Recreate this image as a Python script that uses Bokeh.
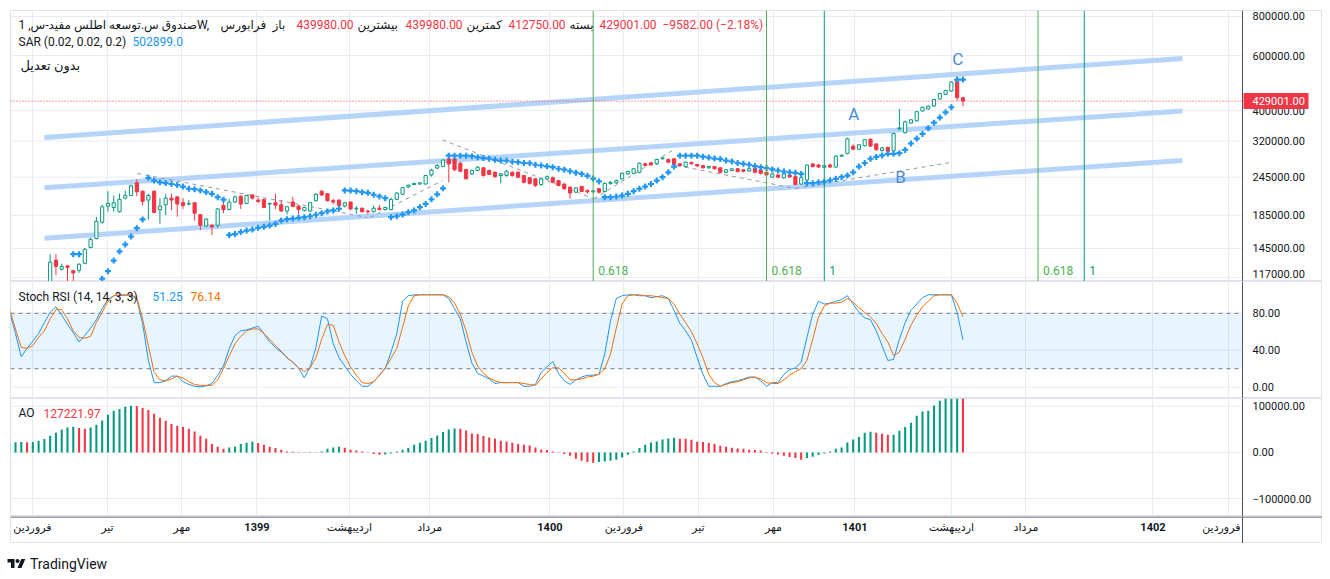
from bokeh.plotting import figure
from bokeh.models import (Range1d, FixedTicker, Span, BoxAnnotation, Label,
                          ColumnDataSource, Grid, Div)
from bokeh.layouts import column
from bokeh.embed import file_html
from bokeh.resources import INLINE
from bokeh.core.properties import value

# ---------------- data (weekly bars, prices in thousands) ----------------
weeks = list(range(-1, 165))

open_k = [97, 99, 102, 101, 104, 103, 106, 108, 133, 124.5,
          127.5, 123, 123.5, 130, 146, 156, 176, 198, 196, 190,
          210, 214, 235, 221, 207, 221, 193, 200, 210, 212,
          203, 201, 203, 186, 171, 172, 172, 199, 193, 204,
          213, 202, 215, 207, 208, 201, 203, 200, 191, 204,
          198, 192, 191, 206, 221, 217, 206, 207, 198, 204,
          194, 195, 191, 190, 195, 193, 193, 208, 216, 228,
          232, 233, 233, 249, 262, 265, 280, 280, 271.7, 259.5,
          251, 257.4, 262.5, 257.4, 254, 248, 248, 254, 254, 248,
          244, 242, 232, 242, 244, 239, 233, 227.6, 219.4, 228.7,
          222, 220, 225, 220.5, 234, 235, 242, 251, 252, 254,
          270.4, 272.4, 270.4, 280.6, 279, 280.6, 270.4, 265, 273, 269,
          267, 262.5, 265, 262.5, 254, 257.4, 260.7, 258.7, 256.5, 262,
          258.7, 254, 245, 249, 244, 249, 246, 233, 240, 270,
          268, 263, 268, 264, 286, 292, 308, 301, 309, 324,
          313, 298, 305, 298, 350, 340, 365, 371, 399, 405,
          414, 436, 451, 462, 497, 439.98]
high_k = [100, 103, 104, 105, 106, 107, 110, 139, 139, 129.5,
          128.5, 124, 130, 145.5, 157, 183, 200, 221, 214, 217,
          222, 232, 241, 222, 217, 222, 210, 217, 217, 213,
          210, 207, 204, 187, 181.5, 173, 195, 206, 209, 214,
          214, 215, 216, 211, 209, 203, 217, 207, 198, 212,
          200, 197, 204, 218, 223, 218, 209, 208, 204, 205,
          198, 196, 193, 199, 200, 197, 211, 220, 228, 232,
          235, 236, 249, 261, 270, 279, 281, 284, 274, 260,
          259, 266, 264, 259, 256, 253, 258, 256, 256, 249,
          245, 243, 244, 248, 246, 240, 234, 229, 228, 230,
          224, 223, 226, 236, 238, 241, 254, 257, 262, 273,
          272, 274, 281, 284, 281, 282, 271, 275, 275, 270,
          268, 266, 266, 263, 260, 262, 262, 260, 262, 263,
          260, 255, 252, 250, 253, 251, 247, 245, 269, 272,
          270, 269, 271, 288, 290, 328, 312, 313, 324, 326,
          315, 306, 307, 340, 405, 372, 376, 398, 412, 416,
          436, 456, 466, 497, 510, 439.98]
low_k = [95, 98, 100, 99, 102, 101, 104, 104, 119, 123,
         114, 114, 121, 129, 145, 155, 174, 190, 190, 189,
         208, 213, 213, 199, 179, 188, 174, 185, 192, 183,
         194, 199, 178, 166, 170, 160, 169, 188, 192, 203,
         194, 202, 208, 202, 195, 178, 194, 190, 186, 197,
         186, 190, 190, 205, 213, 205, 201, 198, 196, 192,
         187, 189, 186, 189, 192, 192, 192, 207, 215, 226,
         231, 232, 232, 246, 260, 264, 236, 256, 254, 241,
         249, 256, 246, 249, 244, 234, 246, 246, 243, 234,
         232, 228, 230, 240, 234, 229, 223, 209, 218, 219,
         217, 218, 217, 219, 232, 233, 240, 249, 251, 252,
         265, 266, 268, 279, 272, 266, 265, 263, 269, 264,
         261, 261, 259, 252, 252, 256, 254, 254, 255, 252,
         250, 247, 244, 243, 242, 244, 231, 232, 238, 263,
         262, 261, 262, 262, 284, 290, 299, 299, 307, 306,
         298, 296, 294, 296, 346, 338, 363, 369, 397, 403,
         412, 434, 449, 460, 430, 412.75]
close_k = [99, 102, 101, 104, 103, 106, 108, 131, 127, 127,
           126, 121, 129, 144, 155, 177, 197, 202, 203, 208,
           214, 230, 220, 205, 214, 189, 198, 210, 207, 201,
           199, 202, 188, 172, 180, 170, 194, 193, 204, 212,
           201, 214, 210, 205, 196, 202, 199.5, 191, 197, 197.5,
           193, 196, 203, 216, 215, 206, 204, 199, 203, 194,
           195, 190, 190, 195, 193, 196, 208, 218, 227, 231,
           234, 235, 248, 258, 267, 278, 270, 259, 256, 242,
           257.4, 263.7, 248, 250, 246, 251, 256, 248, 245, 236,
           234, 230.5, 242, 246, 236, 230.5, 225, 218, 226.5, 220.5,
           220, 221.5, 219.4, 234, 236, 239, 252, 255.5, 260.7, 271.6,
           267, 268.5, 279, 282.5, 273.6, 268.5, 267, 273.6, 270.4, 266.3,
           262.5, 265, 260.7, 254, 258.7, 260.7, 255.4, 256, 260.7, 254,
           252, 249, 251, 245, 252, 245.5, 232, 244, 268, 265,
           264, 267, 264, 286, 288, 325, 301, 311, 323, 308,
           300, 304, 296, 338, 352, 368, 374, 397, 410, 413,
           434, 454, 464, 494, 440, 429.001]
sar_k = [90, 91, 92, 93, 94, 95, 97, 99, 101, 103,
         105, 139, 139, 104, 106, 109, 116, 122.6, 132.6, 141.8,
         149.3, 158.3, 168.3, 179.5, 243.9, 239, 236, 234.7, 233, 231.3,
         228.6, 225, 224.3, 222.3, 219.6, 216.8, 211.5, 207.6, 160.2, 161.2,
         163.5, 165.4, 166.6, 168.7, 170, 171.6, 173.7, 178, 179.8, 180.7,
         181.6, 182.5, 183.8, 185.8, 188, 190.4, 191.8, 194.2, 222.3, 222,
         221, 219.4, 218.4, 215.3, 212.6, 210, 182.5, 183.8, 186, 189.3,
         191.8, 196.4, 201.2, 208.3, 216, 225.7, 287, 287, 287, 287,
         286, 284, 282, 280.6, 278.5, 277, 277, 274.5, 273.6, 272,
         271.5, 268.5, 267, 265.5, 263.7, 260.7, 259, 256, 253.3, 251,
         247.5, 242.5, 237.5, 211.5, 211.5, 212.5, 214, 216.8, 221, 225,
         228.7, 233, 239, 245, 254, 265, 287, 287, 287, 287,
         285, 283, 281, 280, 277, 275, 272, 270.4, 268.5, 266,
         263.7, 262, 259.5, 257.4, 255.5, 254, 253, 251, 234.4, 234.4,
         236, 237, 239.5, 242, 245, 248, 254, 265, 272, 280.6,
         284.5, 287.7, 291, 291, 292.3, 299.5, 314, 325.6, 337, 351.6,
         366, 380, 395, 410, 502.9, 502.899]
stoch_k = [81, 58, 33, 42, 50, 58, 70, 81, 87, 78,
           68, 59, 49, 56, 64, 73, 85, 95, 99, 99.5,
           99.5, 99.5, 95, 69, 29, 5, 5, 7, 12, 12,
           6, 3, 1, 0.5, 1.5, 4, 13, 23, 42, 56,
           61, 62, 64, 66, 58, 49, 43, 38, 32, 27,
           21, 10, 22, 43, 77, 74, 47, 32, 23, 14,
           7, 1, 1, 6, 13, 20, 38, 58, 93, 99,
           100, 100, 100, 100, 100, 100, 96, 85, 74, 49,
           26, 15, 12, 9, 4, 5, 5, 5, 5, 1,
           1, 3, 16, 22, 28, 15, 7, 3, 8, 11,
           13, 13, 14, 36, 72, 96, 99, 100, 100, 99,
           99, 97, 98, 99, 96, 83, 69, 61, 51, 32,
           14, 1, 1, 1, 4, 6, 7, 9, 11, 11,
           7, 1, 5, 5, 14, 19, 21, 27, 54, 79,
           93, 90, 91, 93, 95, 99, 90, 81, 75, 73,
           61, 45, 29, 30, 52, 70, 83, 90, 97, 100,
           100, 100, 100, 100, 81, 51.25]
stoch_d = [84, 63, 43, 42, 45, 54, 61, 74, 84, 84,
           74, 61, 54, 53, 55, 70, 81, 93, 99, 100,
           100, 100, 97, 74, 45, 16, 8, 7, 9, 12,
           10, 6, 3, 2, 2, 2, 8, 20, 34, 47,
           55, 61, 63, 63, 58, 52, 45, 39, 32, 27,
           21, 17, 21, 32, 52, 68, 67, 49, 34, 22,
           13, 5, 4, 6, 13, 21, 31, 42, 65, 88,
           99, 100, 100, 100, 100, 100, 98, 91, 79, 61,
           38, 23, 15, 10, 7, 5, 5, 5, 5, 4,
           3, 2, 9, 16, 21, 21, 15, 8, 8, 9,
           11, 12, 14, 20, 36, 64, 90, 99, 100, 100,
           99, 99, 98, 97, 96, 90, 79, 70, 60, 47,
           32, 14, 5, 1, 3, 5, 6, 8, 10, 11,
           9, 5, 4, 4, 8, 13, 17, 20, 29, 52,
           76, 88, 91, 91, 92, 96, 92, 86, 81, 76,
           69, 58, 49, 34, 38, 52, 67, 78, 87, 93,
           99, 100, 100, 100, 91, 76.14]
ao_k = [21.5, 22.0, 22.5, 22.2, 22.6, 25.3, 28.9, 36.2, 42.7, 49.9,
        54.2, 55.7, 52.8, 51.3, 54.2, 60.0, 69.4, 81.7, 90.4, 94.0,
        99.0, 101.2, 100.8, 96.2, 91.8, 83.9, 75.2, 68.7, 61.5, 57.8,
        55.0, 51.3, 45.5, 36.2, 29.6, 18.1, 12.3, 8.0, 10.8, 12.3,
        18.1, 21.0, 23.1, 20.2, 16.6, 12.3, 9.4, 5.8, 2.2, 1.4,
        0.7, -0.7, -1.4, -0.7, 2.2, 8.0, 10.8, 12.3, 10.1, 5.8,
        4.3, 2.2, -0.7, -3.6, -5.1, -4.3, -2.2, 2.2, 5.8, 9.4,
        16.6, 21.0, 25.3, 31.1, 36.9, 44.1, 49.9, 52.1, 51.3, 47.7,
        41.2, 39.8, 35.4, 32.5, 29.6, 25.3, 23.9, 21.0, 18.1, 16.6,
        15.2, 10.8, 6.5, 5.1, 2.2, -0.7, -3.6, -7.2, -13.7, -18.1,
        -21.0, -22.4, -20.5, -19.5, -18.1, -15.9, -10.8, -5.1, 2.2, 9.4,
        16.6, 21.7, 23.9, 28.2, 30.4, 31.8, 29.6, 29.5, 27.5, 23.1,
        22.4, 20.2, 18.1, 14.5, 12.3, 10.1, 8.7, 8.0, 5.8, 5.1,
        4.3, 0.7, -2.9, -4.3, -7.2, -10.1, -12.3, -15.9, -12.3, -9.4,
        -5.8, -2.2, 2.2, 8.0, 10.8, 21.7, 28.2, 33.3, 42.7, 44.8,
        42.7, 40.5, 38.3, 38.5, 47.0, 55.0, 64.3, 79.5, 88.9, 90.4,
        102.0, 112.0, 125.0, 133.0, 138.0, 127.22197]

# time axis
time_tick_pos = [2.93, 15.9, 28.8, 41.8, 57.8, 71.7, 92.5, 105.3, 118.2, 131.2,
                 145.3, 162.0, 174.9, 196.9, 210.0]
time_tick_labels = ["فروردین", "تیر", "مهر", "1399", "اردیبهشت", "مرداد", "1400",
                    "فروردین", "تیر", "مهر", "1401", "اردیبهشت", "مرداد", "1402", "فروردین"]
year_labels = ["1399", "1400", "1401", "1402"]

price_ticks = [117000, 145000, 185000, 245000, 320000, 400000, 600000, 800000]
stoch_ticks = [0, 40, 80]
ao_ticks = [-100000, 0, 100000]

# drawings: regression channel (index, price k)
channel_x = [5.0, 202.0]
channel_upper_k = [328.4, 587.2]
channel_middle_k = [226.7, 398.9]
channel_lower_k = [156.3, 277.0]

# dashed wave lines (index pairs, price pairs in k)
wave_x = [[21.1, 60.9], [61.4, 73.9], [73.9, 100.1], [100.1, 113.7], [114.5, 135.0], [135.0, 162.1]]
wave_p = [[251.8, 182.1], [182.1, 239.0], [322.7, 209.0], [209.0, 298.3], [267.0, 225.5], [225.5, 273.6]]

# ABC labels
abc_text = ["A", "B", "C"]
abc_x = [145.1, 153.2, 163.1]
abc_p = [388.8, 244.9, 587.0]

# Fibonacci time zones
fib_pos = [100, 130, 140, 177, 185]
fib_labels = ["0.618", "0.618", "1", "0.618", "1"]

last_close = 429001.0

# ---------------- style / geometry ----------------
FONT = "Roboto, 'DejaVu Sans', sans-serif"
GRID = "#e8ecf2"
BORDER = "#e0e3eb"
TXT = "#131722"
AXL = "#50535e"
UP = "#089981"
DN = "#f23645"
BLUE = "#2196f3"

PX_PER_BAR = 5.777
FRAME_W = 1312          # plot area incl. price-scale column
PLOT_W = 1232           # chart area left of the price scale
X0 = -0.866
AXIS_X = X0 + PLOT_W / PX_PER_BAR
xr = Range1d(X0, X0 + FRAME_W / PX_PER_BAR)


def make_fig(fh, yr, ytype="linear", top=0):
    p = figure(frame_width=FRAME_W, frame_height=fh, x_range=xr, y_range=yr, y_axis_type=ytype,
               x_axis_location=None, y_axis_location=None, toolbar_location=None,
               output_backend="svg", min_border_left=10, min_border_right=0,
               min_border_top=top, min_border_bottom=0)
    p.background_fill_color = "white"
    p.border_fill_color = "white"
    p.outline_line_color = BORDER
    p.grid.visible = False
    return p


def price_scale(p, ticks, labels, offsets=None):
    # horizontal grid lines limited to the chart area
    p.segment(x0=[X0] * len(ticks), x1=[AXIS_X] * len(ticks), y0=ticks, y1=ticks,
              line_color=GRID, line_width=1, level="underlay")
    p.add_layout(Grid(dimension=0, ticker=FixedTicker(ticks=time_tick_pos), grid_line_color=GRID))
    src = ColumnDataSource(dict(x=[AXIS_X] * len(ticks), y=ticks, t=labels,
                                dy=offsets if offsets else [0] * len(ticks)))
    p.text(x="x", y="y", text="t", x_offset=10, y_offset="dy", source=src,
           text_font=value(FONT), text_font_size="11px", text_color=TXT,
           text_align="left", text_baseline="middle")
    p.add_layout(Span(location=AXIS_X, dimension="height", line_color=AXL, line_width=1))


def add_label(p, x, y, text, color=TXT, size="12px"):
    p.add_layout(Label(x=x, y=y, x_units="screen", y_units="screen", text=text, text_color=color,
                       text_font=FONT, text_font_size=size, text_align="left",
                       text_baseline="middle"))


# ---------------- main price panel ----------------
p1 = make_fig(271, Range1d(113660, 836100), ytype="log", top=10)
price_scale(p1, price_ticks, ["%.2f" % t for t in price_ticks],
            offsets=[-4, 0, 0, 0, 0, 0, 0, 0])

o = [v * 1000 for v in open_k]
h = [v * 1000 for v in high_k]
l = [v * 1000 for v in low_k]
c = [v * 1000 for v in close_k]
up = [cc >= oo for oo, cc in zip(o, c)]
csrc = ColumnDataSource(dict(
    x=weeks, o=o, h=h, l=l, c=c,
    top=[max(a, b) for a, b in zip(o, c)],
    bottom=[min(a, b) for a, b in zip(o, c)],
    color=[UP if u else DN for u in up],
    fill=["#ffffff" if u else DN for u in up],
))

for ch in (channel_upper_k, channel_middle_k, channel_lower_k):
    p1.line(channel_x, [v * 1000 for v in ch], line_color="#b5d4fa", line_width=5)

for wx, wp in zip(wave_x, wave_p):
    p1.line(wx, [v * 1000 for v in wp], line_color="#9598a1", line_width=1, line_dash="4 4")

p1.segment(x0="x", y0="l", x1="x", y1="h", line_color="color", line_width=1, source=csrc)
p1.vbar(x="x", width=0.55, top="top", bottom="bottom", fill_color="fill",
        line_color="color", line_width=1, source=csrc)

p1.scatter(weeks, [v * 1000 for v in sar_k], marker="cross", size=6, line_width=2.2, color=BLUE)

for pos, lab in zip(fib_pos, fib_labels):
    col = "#4caf50" if lab != "1" else UP
    p1.add_layout(Span(location=pos, dimension="height", line_color=col, line_width=1))
    p1.add_layout(Label(x=pos, y=11, x_units="data", y_units="screen", x_offset=5, text=lab,
                        text_color=col, text_font=FONT, text_font_size="12px",
                        text_baseline="middle"))

p1.text(x=abc_x, y=[v * 1000 for v in abc_p], text=abc_text, text_font=value(FONT),
        text_font_size="17px", text_color="#4a8ad8", text_align="center", text_baseline="middle")

# last price: dotted line + red price tag on the scale
p1.segment(x0=[X0], x1=[AXIS_X], y0=[last_close], y1=[last_close],
           line_color=DN, line_width=1, line_dash="1 2")
p1.rect(x=[AXIS_X + 33.5 / PX_PER_BAR], y=[last_close], width=65, height=16,
        width_units="screen", height_units="screen", fill_color=DN, line_color=None)
p1.text(x=[AXIS_X], y=[last_close], text=["%.2f" % last_close], x_offset=10,
        text_font=value(FONT), text_font_size="11px", text_color="white",
        text_align="left", text_baseline="middle")

# legend texts (frame-relative screen coords; frame: x 10.., bottom at page y 281)
FB1 = 281
add_label(p1, 8, FB1 - 24, "صندوق س.توسعه اطلس مفید-س, 1W,")
add_label(p1, 210, FB1 - 24, "فرابورس")
add_label(p1, 262, FB1 - 24, "باز")
add_label(p1, 286, FB1 - 24, "439980.00", DN)
add_label(p1, 347, FB1 - 24, "بیشترین")
add_label(p1, 395, FB1 - 24, "439980.00", DN)
add_label(p1, 456, FB1 - 24, "کمترین")
add_label(p1, 498, FB1 - 24, "412750.00", DN)
add_label(p1, 559, FB1 - 24, "بسته")
add_label(p1, 589, FB1 - 24, "429001.00", DN)
add_label(p1, 652, FB1 - 24, "−9582.00 (−2.18%)", DN)
add_label(p1, 8, FB1 - 41, "SAR (0.02, 0.02, 0.2)")
add_label(p1, 122, FB1 - 41, "502899.0", BLUE)
add_label(p1, 10, FB1 - 65, "بدون تعدیل", size="13px")

# ---------------- Stoch RSI panel ----------------
p2 = make_fig(117, Range1d(-12.2, 114.4))
price_scale(p2, stoch_ticks, ["%.2f" % t for t in stoch_ticks])
p2.add_layout(BoxAnnotation(left=X0, right=AXIS_X, bottom=20, top=80,
                            fill_color=BLUE, fill_alpha=0.1, line_color=None))
p2.segment(x0=[X0, X0], x1=[AXIS_X, AXIS_X], y0=[80, 20], y1=[80, 20],
           line_color="#787b86", line_width=1, line_dash="4 4")
p2.line(weeks, stoch_k, line_color=BLUE, line_width=1)
p2.line(weeks, stoch_d, line_color="#ff6d00", line_width=1)
add_label(p2, 8, 117 - 15, "Stoch RSI (14, 14, 3, 3)")
add_label(p2, 142, 117 - 15, "51.25", BLUE)
add_label(p2, 180, 117 - 15, "76.14", "#ff6d00")

# ---------------- AO panel ----------------
p3 = make_fig(118, Range1d(-139000, 117000))
price_scale(p3, ao_ticks, ["100000.00" if t > 0 else ("0.00" if t == 0 else "−100000.00") for t in ao_ticks])
ao = [v * 1000 for v in ao_k]
ao_col = [UP if i == 0 or ao[i] >= ao[i - 1] else DN for i in range(len(ao))]
p3.vbar(x=weeks, width=0.36, top=ao, bottom=0, fill_color=ao_col, line_color=None)
add_label(p3, 8, 118 - 14.5, "AO")
add_label(p3, 33, 118 - 14.5, "127221.97", DN)

# ---------------- time scale row ----------------
p4 = make_fig(27, Range1d(0, 1))
p4.add_layout(Span(location=0.98, dimension="width", line_color=AXL, line_width=1))
p4.add_layout(Span(location=AXIS_X, dimension="height", line_color=AXL, line_width=1))
norm_x = [p for p, t in zip(time_tick_pos, time_tick_labels) if t not in year_labels and p < 205]
norm_t = [t for p, t in zip(time_tick_pos, time_tick_labels) if t not in year_labels and p < 205]
year_x = [p for p, t in zip(time_tick_pos, time_tick_labels) if t in year_labels]
year_t = [t for t in time_tick_labels if t in year_labels]
p4.text(x=norm_x, y=[0.6] * len(norm_x), text=norm_t, text_font=value(FONT), text_font_size="11px",
        text_color=TXT, text_align="center", text_baseline="middle")
p4.text(x=year_x, y=[0.6] * len(year_x), text=year_t, text_font=value(FONT), text_font_size="11px",
        text_font_style="bold", text_color=TXT, text_align="center", text_baseline="middle")
edge_t = [t for p, t in zip(time_tick_pos, time_tick_labels) if p >= 205]
p4.text(x=[AXIS_X] * len(edge_t), y=[0.6] * len(edge_t), text=edge_t, x_offset=-2,
        text_font=value(FONT), text_font_size="11px", text_color=TXT,
        text_align="right", text_baseline="middle")

logo = Div(width=300, height=26, text=(
    '<div style="display:flex;align-items:center;margin-top:9px;margin-left:2px;'
    'font-family:Roboto,sans-serif;font-size:14px;color:#131722;line-height:14px">'
    '<svg width="19" height="14" viewBox="0 0 36 28"><path d="M14 22H7V11H0V4h14v18zM28 22h-8l7.5-18h8L28 22z" fill="#131722"/>'
    '<circle cx="20" cy="8" r="4" fill="#131722"/></svg>'
    '<span style="margin-left:4px">TradingView</span></div>'))

layout = column(p1, p2, p3, p4, logo, spacing=0)
open("out.html", "w").write(file_html(layout, INLINE))
